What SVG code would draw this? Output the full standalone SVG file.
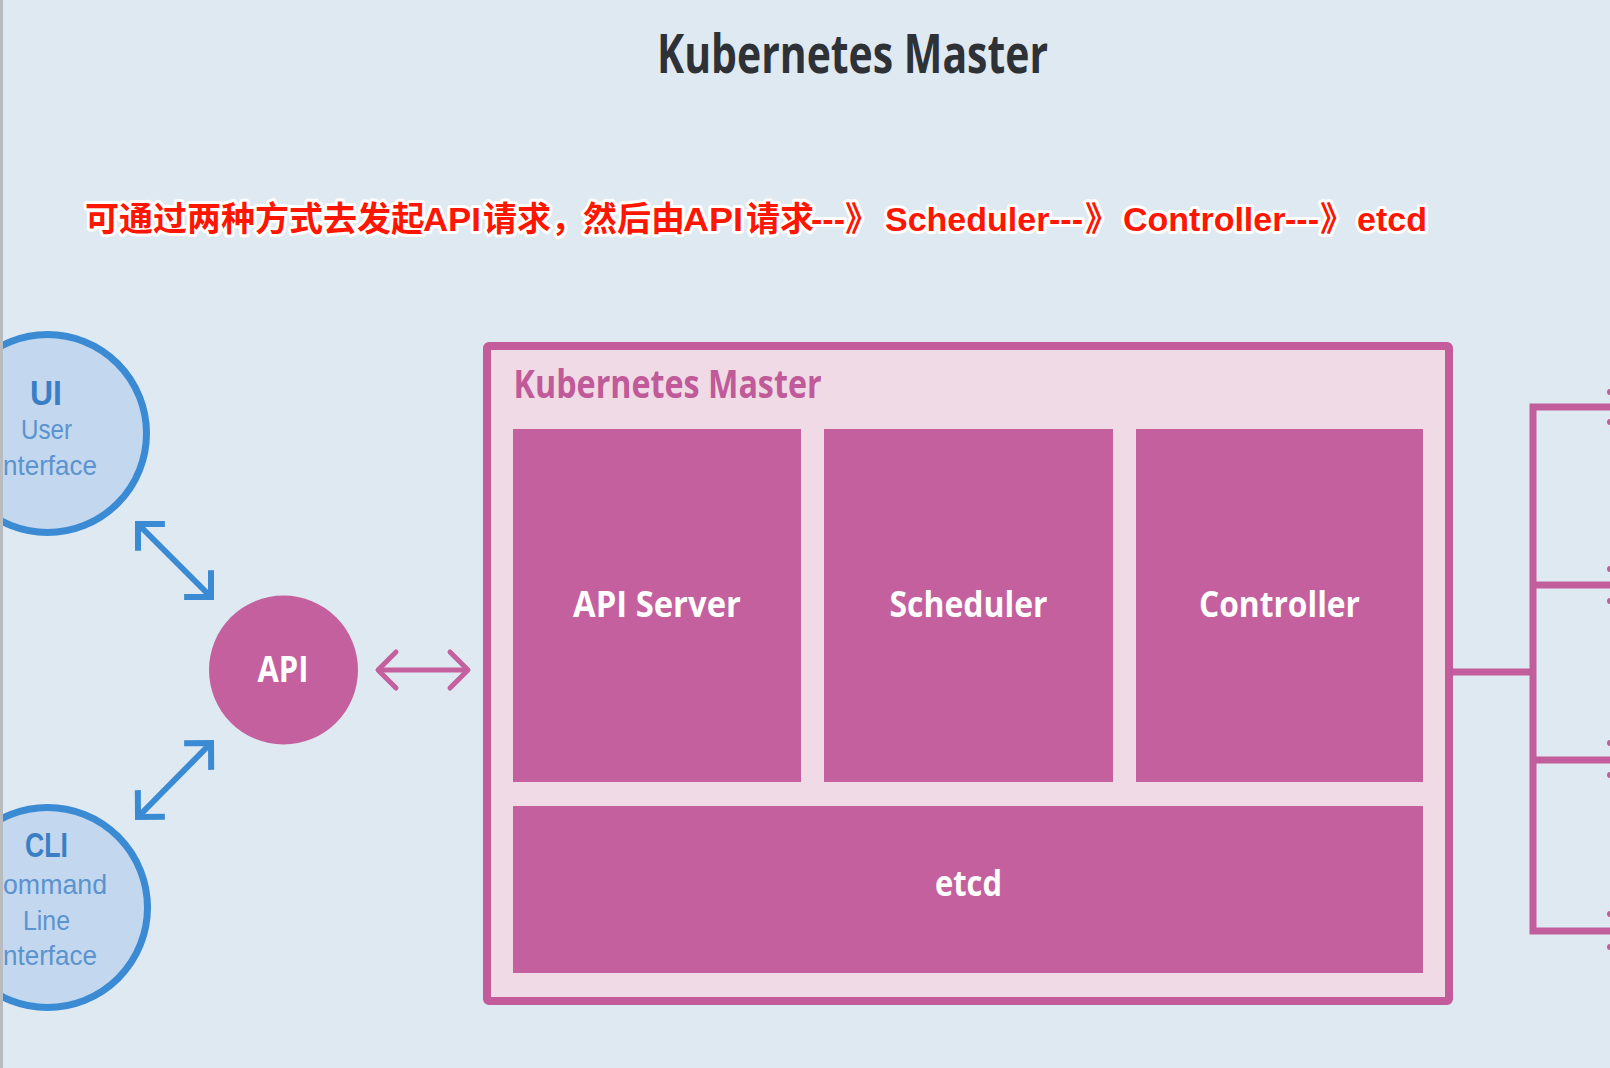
<svg xmlns="http://www.w3.org/2000/svg" width="1610" height="1068" viewBox="0 0 1610 1068">
<defs>
<style>
.cond{font-family:"Open Sans","Noto Sans","Liberation Sans",sans-serif;}
.blab{font-weight:700;fill:#ffffff;text-anchor:middle;font-size:35px;}
.blue-stroke{fill:none;stroke:#3b8bd4;stroke-width:6;}
.pink-stroke{fill:none;stroke:#c4609e;stroke-width:5;}
.brk{fill:none;stroke:#c25e9c;stroke-width:7;}
.pbox{fill:#c4609e;}
.ctext{font-family:"Liberation Sans","Open Sans",sans-serif;fill:#5b93cf;font-size:28px;}
.ctitle{font-family:"Liberation Sans","Open Sans",sans-serif;fill:#3a7fc6;font-size:35px;font-weight:700;}
.red{font-family:"Liberation Sans","Noto Sans CJK SC",sans-serif;font-weight:700;font-size:34px;fill:#ff1500;stroke:#ffffff;stroke-width:6;stroke-linejoin:round;paint-order:stroke;}
</style>
<marker id="bh" markerUnits="userSpaceOnUse" markerWidth="60" markerHeight="60" refX="0" refY="0" orient="auto-start-reverse" overflow="visible">
<path d="M-19,-19 L0,0 L-19,19" fill="none" stroke="#3b8bd4" stroke-width="6"/>
</marker>
<marker id="ph" markerUnits="userSpaceOnUse" markerWidth="60" markerHeight="60" refX="0" refY="0" orient="auto-start-reverse" overflow="visible">
<path d="M-18,-18 L0,0 L-18,18" fill="none" stroke="#c4609e" stroke-width="5" stroke-linejoin="round" stroke-linecap="round"/>
</marker>
</defs>
<rect x="0" y="0" width="1610" height="1068" fill="#dfe9f2"/>

<g id="title">
<text x="852.5" y="73" class="cond" font-size="53" font-weight="700" fill="#2e3135" text-anchor="middle" textLength="391" lengthAdjust="spacingAndGlyphs">Kubernetes Master</text>
</g>

<g id="note">
<text class="red" y="231"><tspan x="85">可通过两种方式去发起</tspan><tspan x="423" textLength="58" lengthAdjust="spacingAndGlyphs">API</tspan><tspan x="483">请求，</tspan><tspan x="583">然后由</tspan><tspan x="683" textLength="60" lengthAdjust="spacingAndGlyphs">API</tspan><tspan x="746">请求</tspan><tspan x="811">---</tspan><tspan x="845">》</tspan><tspan x="885">Scheduler</tspan><tspan x="1049">---</tspan><tspan x="1085">》</tspan><tspan x="1123">Controller</tspan><tspan x="1285">---</tspan><tspan x="1320">》</tspan><tspan x="1357">etcd</tspan></text>
</g>

<g id="ui">
<circle cx="47.5" cy="433.5" r="99" fill="#c3d7ef" stroke="#3b8bd4" stroke-width="7"/>
<text x="46" y="405" class="ctitle" text-anchor="middle" textLength="32" lengthAdjust="spacingAndGlyphs">UI</text>
<text x="46.5" y="439" class="ctext" text-anchor="middle" textLength="51" lengthAdjust="spacingAndGlyphs">User</text>
<text x="3" y="475" class="ctext" textLength="94" lengthAdjust="spacingAndGlyphs">nterface</text>
</g>

<g id="cli">
<circle cx="47.5" cy="907.5" r="100" fill="#c3d7ef" stroke="#3b8bd4" stroke-width="7"/>
<text x="46.5" y="857" class="ctitle" text-anchor="middle" textLength="43" lengthAdjust="spacingAndGlyphs">CLI</text>
<text x="3" y="894" class="ctext" textLength="104" lengthAdjust="spacingAndGlyphs">ommand</text>
<text x="46.5" y="930" class="ctext" text-anchor="middle" textLength="47" lengthAdjust="spacingAndGlyphs">Line</text>
<text x="3" y="965" class="ctext" textLength="94" lengthAdjust="spacingAndGlyphs">nterface</text>
</g>

<g id="api">
<circle cx="283.5" cy="670" r="74.5" fill="#c4609e"/>
<text x="283" y="682" class="cond blab" textLength="51" lengthAdjust="spacingAndGlyphs">API</text>
</g>

<g id="master">
<rect x="487" y="346" width="962" height="655" rx="2" fill="#efdae6" stroke="#c45c9b" stroke-width="8"/>
<text x="513.6" y="398" class="cond" font-size="39" font-weight="700" fill="#c05a98" textLength="308" lengthAdjust="spacingAndGlyphs">Kubernetes Master</text>
</g>

<g id="api-server">
<rect x="513" y="429" width="288" height="353" class="pbox"/>
<text x="657" y="617" class="cond blab" textLength="168" lengthAdjust="spacingAndGlyphs">API Server</text>
</g>

<g id="scheduler">
<rect x="824" y="429" width="289" height="353" class="pbox"/>
<text x="968.5" y="617" class="cond blab" textLength="158" lengthAdjust="spacingAndGlyphs">Scheduler</text>
</g>

<g id="controller">
<rect x="1136" y="429" width="287" height="353" class="pbox"/>
<text x="1279.5" y="617" class="cond blab" textLength="161" lengthAdjust="spacingAndGlyphs">Controller</text>
</g>

<g id="etcd">
<rect x="513" y="806" width="910" height="167" class="pbox"/>
<text x="968.5" y="896" class="cond blab" textLength="67" lengthAdjust="spacingAndGlyphs">etcd</text>
</g>

<g id="connectors">
<path d="M138,524 L211,597" class="blue-stroke" marker-start="url(#bh)" marker-end="url(#bh)"/>
<path d="M138,817 L211,743" class="blue-stroke" marker-start="url(#bh)" marker-end="url(#bh)"/>
<path d="M378,670 L468,670" class="pink-stroke" marker-start="url(#ph)" marker-end="url(#ph)"/>
<path d="M1453,672 L1533,672" class="brk"/>
<path d="M1612,407 L1533,407 L1533,931 L1612,931" class="brk"/>
<path d="M1533,585 L1612,585" class="brk"/>
<path d="M1533,760 L1612,760" class="brk"/>
</g>

<g id="edge-marks" fill="#c25e9c">
<circle cx="1610" cy="392" r="3"/>
<circle cx="1610" cy="422" r="3"/>
<circle cx="1610" cy="569" r="3"/>
<circle cx="1610" cy="601" r="3"/>
<circle cx="1610" cy="743" r="3"/>
<circle cx="1610" cy="775" r="3"/>
<circle cx="1610" cy="914" r="3"/>
<circle cx="1610" cy="947" r="3"/>
</g>

<rect x="0" y="0" width="3" height="1068" fill="#b9bcbf"/>
</svg>
